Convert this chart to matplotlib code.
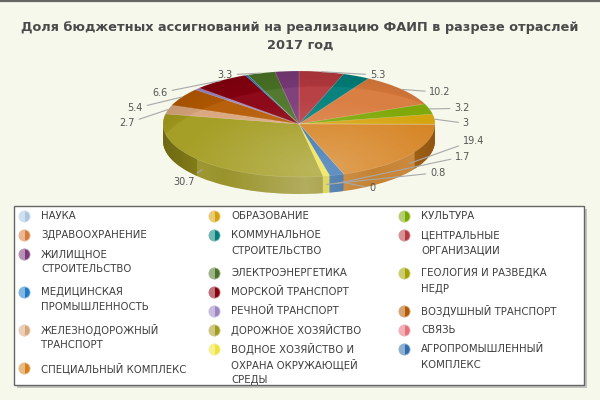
import numpy as np
import matplotlib
matplotlib.use('Agg')
import matplotlib.pyplot as plt
from matplotlib.colors import to_rgb
from matplotlib.patches import Circle, Rectangle, PathPatch
from matplotlib.path import Path

## Data (pie order: clockwise from 12 o'clock)
pie_sectors = ['ЦЕНТРАЛЬНЫЕ\nОРГАНИЗАЦИИ', 'КОММУНАЛЬНОЕ\nСТРОИТЕЛЬСТВО', 'ЗДРАВООХРАНЕНИЕ',
               'КУЛЬТУРА', 'ОБРАЗОВАНИЕ', 'НАУКА', 'СПЕЦИАЛЬНЫЙ КОМПЛЕКС', 'СВЯЗЬ',
               'АГРОПРОМЫШЛЕННЫЙ\nКОМПЛЕКС', 'ВОДНОЕ ХОЗЯЙСТВО И\nОХРАНА ОКРУЖАЮЩЕЙ\nСРЕДЫ',
               'ДОРОЖНОЕ ХОЗЯЙСТВО', 'ЖЕЛЕЗНОДОРОЖНЫЙ\nТРАНСПОРТ', 'ВОЗДУШНЫЙ ТРАНСПОРТ',
               'РЕЧНОЙ ТРАНСПОРТ', 'МОРСКОЙ ТРАНСПОРТ', 'МЕДИЦИНСКАЯ\nПРОМЫШЛЕННОСТЬ',
               'ГЕОЛОГИЯ И РАЗВЕДКА\nНЕДР', 'ЭЛЕКТРОЭНЕРГЕТИКА', 'ЖИЛИЩНОЕ\nСТРОИТЕЛЬСТВО']
pie_values = [5.3, 3.2, 10.2, 3.2, 3.0, 0.1, 19.4, 0.0, 1.7, 0.8, 30.7, 2.7, 5.4, 0.7, 6.6, 0.3, 0.0, 3.3, 2.8]
show_value = [True, False, True, True, True, False, True, True, True, True, True, True, True, False, True, False, False, True, False]

sector_colors = {
    'ЦЕНТРАЛЬНЫЕ\nОРГАНИЗАЦИИ': '#B5393E',
    'КОММУНАЛЬНОЕ\nСТРОИТЕЛЬСТВО': '#007E7A',
    'ЗДРАВООХРАНЕНИЕ': '#D97A3C',
    'КУЛЬТУРА': '#7AA600',
    'ОБРАЗОВАНИЕ': '#D4A106',
    'НАУКА': '#A9C6E2',
    'СПЕЦИАЛЬНЫЙ КОМПЛЕКС': '#D5801C',
    'СВЯЗЬ': '#E6707C',
    'АГРОПРОМЫШЛЕННЫЙ\nКОМПЛЕКС': '#2F6DAE',
    'ВОДНОЕ ХОЗЯЙСТВО И\nОХРАНА ОКРУЖАЮЩЕЙ\nСРЕДЫ': '#EFE33A',
    'ДОРОЖНОЕ ХОЗЯЙСТВО': '#A29B1E',
    'ЖЕЛЕЗНОДОРОЖНЫЙ\nТРАНСПОРТ': '#D9A67C',
    'ВОЗДУШНЫЙ ТРАНСПОРТ': '#B55A02',
    'РЕЧНОЙ ТРАНСПОРТ': '#9B85C2',
    'МОРСКОЙ ТРАНСПОРТ': '#87000F',
    'МЕДИЦИНСКАЯ\nПРОМЫШЛЕННОСТЬ': '#1D7BC9',
    'ГЕОЛОГИЯ И РАЗВЕДКА\nНЕДР': '#A3A300',
    'ЭЛЕКТРОЭНЕРГЕТИКА': '#4B7326',
    'ЖИЛИЩНОЕ\nСТРОИТЕЛЬСТВО': '#7A3A78',
}

# legend columns (as in the reference box)
legend_cols = [
    ['НАУКА', 'ЗДРАВООХРАНЕНИЕ', 'ЖИЛИЩНОЕ\nСТРОИТЕЛЬСТВО', 'МЕДИЦИНСКАЯ\nПРОМЫШЛЕННОСТЬ',
     'ЖЕЛЕЗНОДОРОЖНЫЙ\nТРАНСПОРТ', 'СПЕЦИАЛЬНЫЙ КОМПЛЕКС'],
    ['ОБРАЗОВАНИЕ', 'КОММУНАЛЬНОЕ\nСТРОИТЕЛЬСТВО', 'ЭЛЕКТРОЭНЕРГЕТИКА', 'МОРСКОЙ ТРАНСПОРТ',
     'РЕЧНОЙ ТРАНСПОРТ', 'ДОРОЖНОЕ ХОЗЯЙСТВО', 'ВОДНОЕ ХОЗЯЙСТВО И\nОХРАНА ОКРУЖАЮЩЕЙ\nСРЕДЫ'],
    ['КУЛЬТУРА', 'ЦЕНТРАЛЬНЫЕ\nОРГАНИЗАЦИИ', 'ГЕОЛОГИЯ И РАЗВЕДКА\nНЕДР', 'ВОЗДУШНЫЙ ТРАНСПОРТ',
     'СВЯЗЬ', 'АГРОПРОМЫШЛЕННЫЙ\nКОМПЛЕКС'],
]

title = 'Доля бюджетных ассигнований на реализацию ФАИП в разрезе отраслей'
subtitle = '2017 год'

## Layout
bg = '#F6F8EC'
depth = 0.32      # pie thickness (in vertical radius units)
n_layers = 26
# value label positions (data coords of pie axes), same order as pie_sectors
label_pos = [(0.52, 0.925), None, (0.958, 0.598), (1.14, 0.296), (1.203, 0.013), None,
             (1.203, -0.315), (0.517, -1.214), (1.147, -0.617), (0.963, -0.918),
             (-0.765, -1.088), (-1.206, 0.013), (-1.147, 0.296), None, (-0.963, 0.59),
             None, None, (-0.485, 0.925), None]


def shade(c, f):
    r, g, b = to_rgb(c)
    return (r * f, g * f, b * f)


fig = plt.figure(figsize=(6, 4), dpi=100, facecolor=bg)

ax = fig.add_axes([0, 0.5, 1, 0.35])
ax.patch.set_visible(False)
top_colors = [sector_colors[s] for s in pie_sectors]
side_colors = [shade(c, 0.9) for c in top_colors]

# side of the pie: stacked layers
for k in range(n_layers, 0, -1):
    ax.pie(pie_values, colors=side_colors, startangle=90, counterclock=False,
           center=(0, -depth * k / n_layers), radius=1, wedgeprops=dict(linewidth=0))
# top face
ax.pie(pie_values, colors=top_colors, startangle=90, counterclock=False,
       center=(0, 0), radius=1, wedgeprops=dict(linewidth=0.4, edgecolor=(1, 1, 1, 0.25)))

# shading of top face
gx = np.linspace(-1, 1, 240)
X, Y = np.meshgrid(gx, gx)
d = np.hypot(X - 0.15, (Y + 0.85) * 0.8)
light = np.clip(0.27 * (1 - d / 1.25), 0, None)
dark = np.clip(0.18 * (d - 1.05) / 0.8, 0, None)
img = np.zeros((240, 240, 4))
img[..., :3] = np.where((light > 0)[..., None], 1.0, 0.0)
img[..., 3] = light + dark
im = ax.imshow(img, extent=(-1, 1, -1, 1), origin='lower', aspect='auto', zorder=5,
               interpolation='bilinear')
im.set_clip_path(Circle((0, 0), 1, transform=ax.transData))

# shading of the side band
t = np.linspace(np.pi, 2 * np.pi, 120)
band = np.concatenate([np.c_[np.cos(t), np.sin(t)], np.c_[np.cos(t[::-1]), np.sin(t[::-1]) - depth]])
band_path = PathPatch(Path(band), transform=ax.transData, facecolor='none', edgecolor='none')
sx = np.linspace(-1, 1, 240)
hl = np.clip(0.3 * (1 - np.abs(sx - 0.05) / 0.8), 0, None)
dk = np.clip(0.25 * (np.abs(sx) - 0.55) / 0.45, 0, None)
simg = np.zeros((2, 240, 4))
simg[..., :3] = np.where((hl > 0)[:, None], 1.0, 0.0)[None, :, :]
simg[..., 3] = (hl + dk)[None, :]
sim = ax.imshow(simg, extent=(-1, 1, -1 - depth, 0), origin='lower', aspect='auto', zorder=5,
                interpolation='bilinear')
sim.set_clip_path(band_path)

# value labels with leader lines
total = sum(pie_values)
cum = 0.0
for v, show, pos in zip(pie_values, show_value, label_pos):
    mid = np.radians(360.0 * (cum + v / 2.0) / total)
    cum += v
    if not show:
        continue
    ax_x, ax_y = np.sin(mid), np.cos(mid)
    if 120 < np.degrees(mid) < 240:
        ax_y = ax_y - depth * 0.5
    ax.annotate(f'{v:g}', xy=(ax_x, ax_y), xytext=pos, fontsize=7, color='#555555',
                ha='left' if pos[0] > 0 else 'right', va='center', zorder=10,
                arrowprops=dict(arrowstyle='-', color='#A8A8A8', lw=0.8, shrinkA=1, shrinkB=0))

ax.set_aspect('auto')
ax.set_xlim(-299 / 136, 301 / 136)
ax.set_ylim(-76 / 53, 64 / 53)
ax.axis('off')

# overlay in pixel coordinates: title, border, legend
ov = fig.add_axes([0, 0, 1, 1])
ov.set_xlim(0, 600)
ov.set_ylim(400, 0)
ov.axis('off')
ov.patch.set_visible(False)

ov.plot([0, 600], [1.2, 1.2], color='#666666', lw=1.6)
ov.text(300, 27, title, ha='center', va='center', fontsize=9.3, fontweight='bold', color='#4a4a4a')
ov.text(300, 45, subtitle, ha='center', va='center', fontsize=9.3, fontweight='bold', color='#4a4a4a')

ov.add_patch(Rectangle((17, 209), 570, 179, facecolor='#A0A0A0', edgecolor='none', alpha=0.6, zorder=1))
ov.add_patch(Rectangle((14, 206), 570, 179, facecolor='white', edgecolor='#666666', lw=1, zorder=2))

col_x = [24, 214, 404]
for cx, names in zip(col_x, legend_cols):
    y = 216
    for name in names:
        c = sector_colors[name]
        lc = tuple(0.55 * np.array(to_rgb(c)) + 0.45)
        ov.plot([cx], [y], marker='o', markersize=8, fillstyle='right', markerfacecolor=c,
                markerfacecoloralt=lc, markeredgecolor=lc, markeredgewidth=0.6, zorder=3)
        lines = name.split('\n')
        for j, line in enumerate(lines):
            ov.text(cx + 17, y + j * 15.5, line, ha='left', va='center', fontsize=7.3,
                    color='#3c3c3c', zorder=3)
        y += 19 * len(lines)

plt.savefig('out.png', dpi=100, facecolor=bg)
